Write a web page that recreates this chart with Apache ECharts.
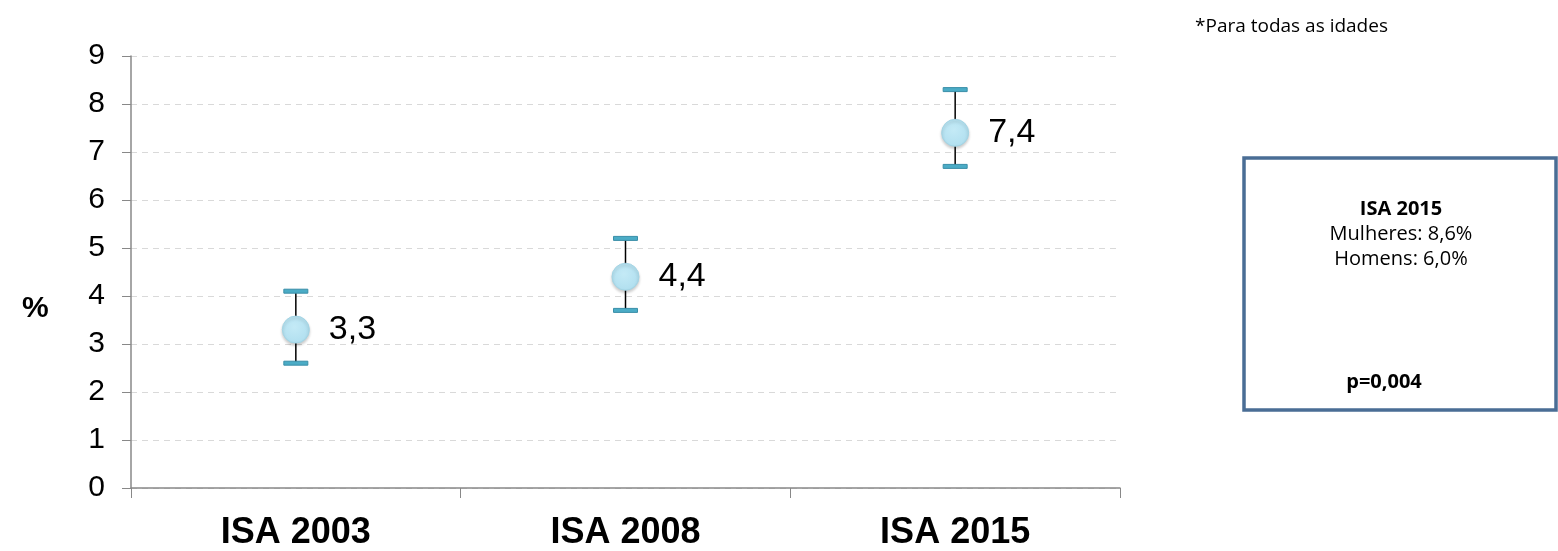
<!DOCTYPE html>
<html><head><meta charset="utf-8">
<script src="https://cdn.jsdelivr.net/npm/echarts@6/dist/echarts.min.js"></script>
<style>html,body{margin:0;padding:0;background:#fff}#c{width:1558px;height:551px}</style>
</head><body><div id="c"></div>
<script>
const categories = ['ISA 2003', 'ISA 2008', 'ISA 2015'];
const values = [3.3, 4.4, 7.4];
const lower = [2.6, 3.7, 6.7];
const upper = [4.1, 5.2, 8.3];
const yTicks = [0, 1, 2, 3, 4, 5, 6, 7, 8, 9];

const chart = echarts.init(document.getElementById('c'));
const errData = categories.map((c, i) => [i, lower[i], upper[i]]);
chart.setOption({
  animation: false,
  grid: { left: 131, right: 438, top: 56, bottom: 61 },
  xAxis: {
    type: 'category', data: categories, boundaryGap: true,
    axisLine: { lineStyle: { color: '#888', width: 1.5 } },
    axisTick: { show: true, length: 10, lineStyle: { color: '#888' } },
    axisLabel: { color: '#000', fontFamily: 'Liberation Sans, Arial', fontWeight: 'bold', fontSize: 36, margin: 27 }
  },
  yAxis: {
    type: 'value', min: yTicks[0], max: yTicks[yTicks.length - 1], interval: 1,
    axisLine: { show: true, lineStyle: { color: '#888', width: 1.5 } },
    axisTick: { show: true, length: 9, lineStyle: { color: '#888' } },
    axisLabel: { color: '#000', fontFamily: 'Liberation Sans, Arial', fontSize: 30, margin: 26 },
    splitLine: { lineStyle: { color: '#d9d9d9', type: [6, 5], width: 1 } }
  },
  graphic: [
    { type: 'text', left: 22, top: 294, style: { text: '%', font: 'bold 30px "Liberation Sans", Arial', fill: '#000' } },
    { type: 'text', left: 1195, top: 17, style: { text: '*Para todas as idades', font: '19px "Open Sans", Lato', fill: '#000' } },
    { type: 'rect', shape: { x: 1244, y: 158, width: 312, height: 252 }, style: { fill: '#fff', stroke: '#4A6D95', lineWidth: 3.5 } },
    { type: 'text', x: 1401, y: 199, style: { text: 'ISA 2015', font: 'bold 20px "Open Sans", Lato', fill: '#000', align: 'center' } },
    { type: 'text', x: 1401, y: 224, style: { text: 'Mulheres: 8,6%', font: '20px "Open Sans", Lato', fill: '#000', align: 'center' } },
    { type: 'text', x: 1401, y: 249, style: { text: 'Homens: 6,0%', font: '20px "Open Sans", Lato', fill: '#000', align: 'center' } },
    { type: 'text', x: 1384, y: 372, style: { text: 'p=0,004', font: 'bold 20px "Open Sans", Lato', fill: '#000', align: 'center' } }
  ],
  series: [
    {
      type: 'custom', data: errData, z: 2,
      renderItem: function (params, api) {
        const x = api.value(0);
        const lo = api.coord([x, api.value(1)]);
        const hi = api.coord([x, api.value(2)]);
        const w = 24, h = 4;
        return { type: 'group', children: [
          { type: 'line', shape: { x1: lo[0], y1: lo[1], x2: hi[0], y2: hi[1] }, style: { stroke: '#000', lineWidth: 1.5 } },
          { type: 'rect', shape: { x: hi[0] - w / 2, y: hi[1] - h / 2, width: w, height: h }, style: { fill: '#4BACC6', stroke: '#3A8FA8', lineWidth: 1 } },
          { type: 'rect', shape: { x: lo[0] - w / 2, y: lo[1] - h / 2, width: w, height: h }, style: { fill: '#4BACC6', stroke: '#3A8FA8', lineWidth: 1 } }
        ] };
      }
    },
    {
      type: 'scatter', data: values, z: 3, symbol: 'circle', symbolSize: 27,
      itemStyle: {
        color: new echarts.graphic.RadialGradient(0.45, 0.4, 0.7, [
          { offset: 0, color: '#C4EAF6' }, { offset: 1, color: '#ADDDEE' }
        ]),
        opacity: 1,
        borderColor: '#A3D4E4', borderWidth: 1,
        shadowColor: 'rgba(0,0,0,0.2)', shadowBlur: 3, shadowOffsetY: 2
      },
      label: {
        show: true, position: 'right', distance: 19, color: '#000',
        fontFamily: 'Liberation Sans, Arial', fontSize: 34,
        formatter: p => String(p.value).replace('.', ',')
      }
    }
  ]
});
</script></body></html>
